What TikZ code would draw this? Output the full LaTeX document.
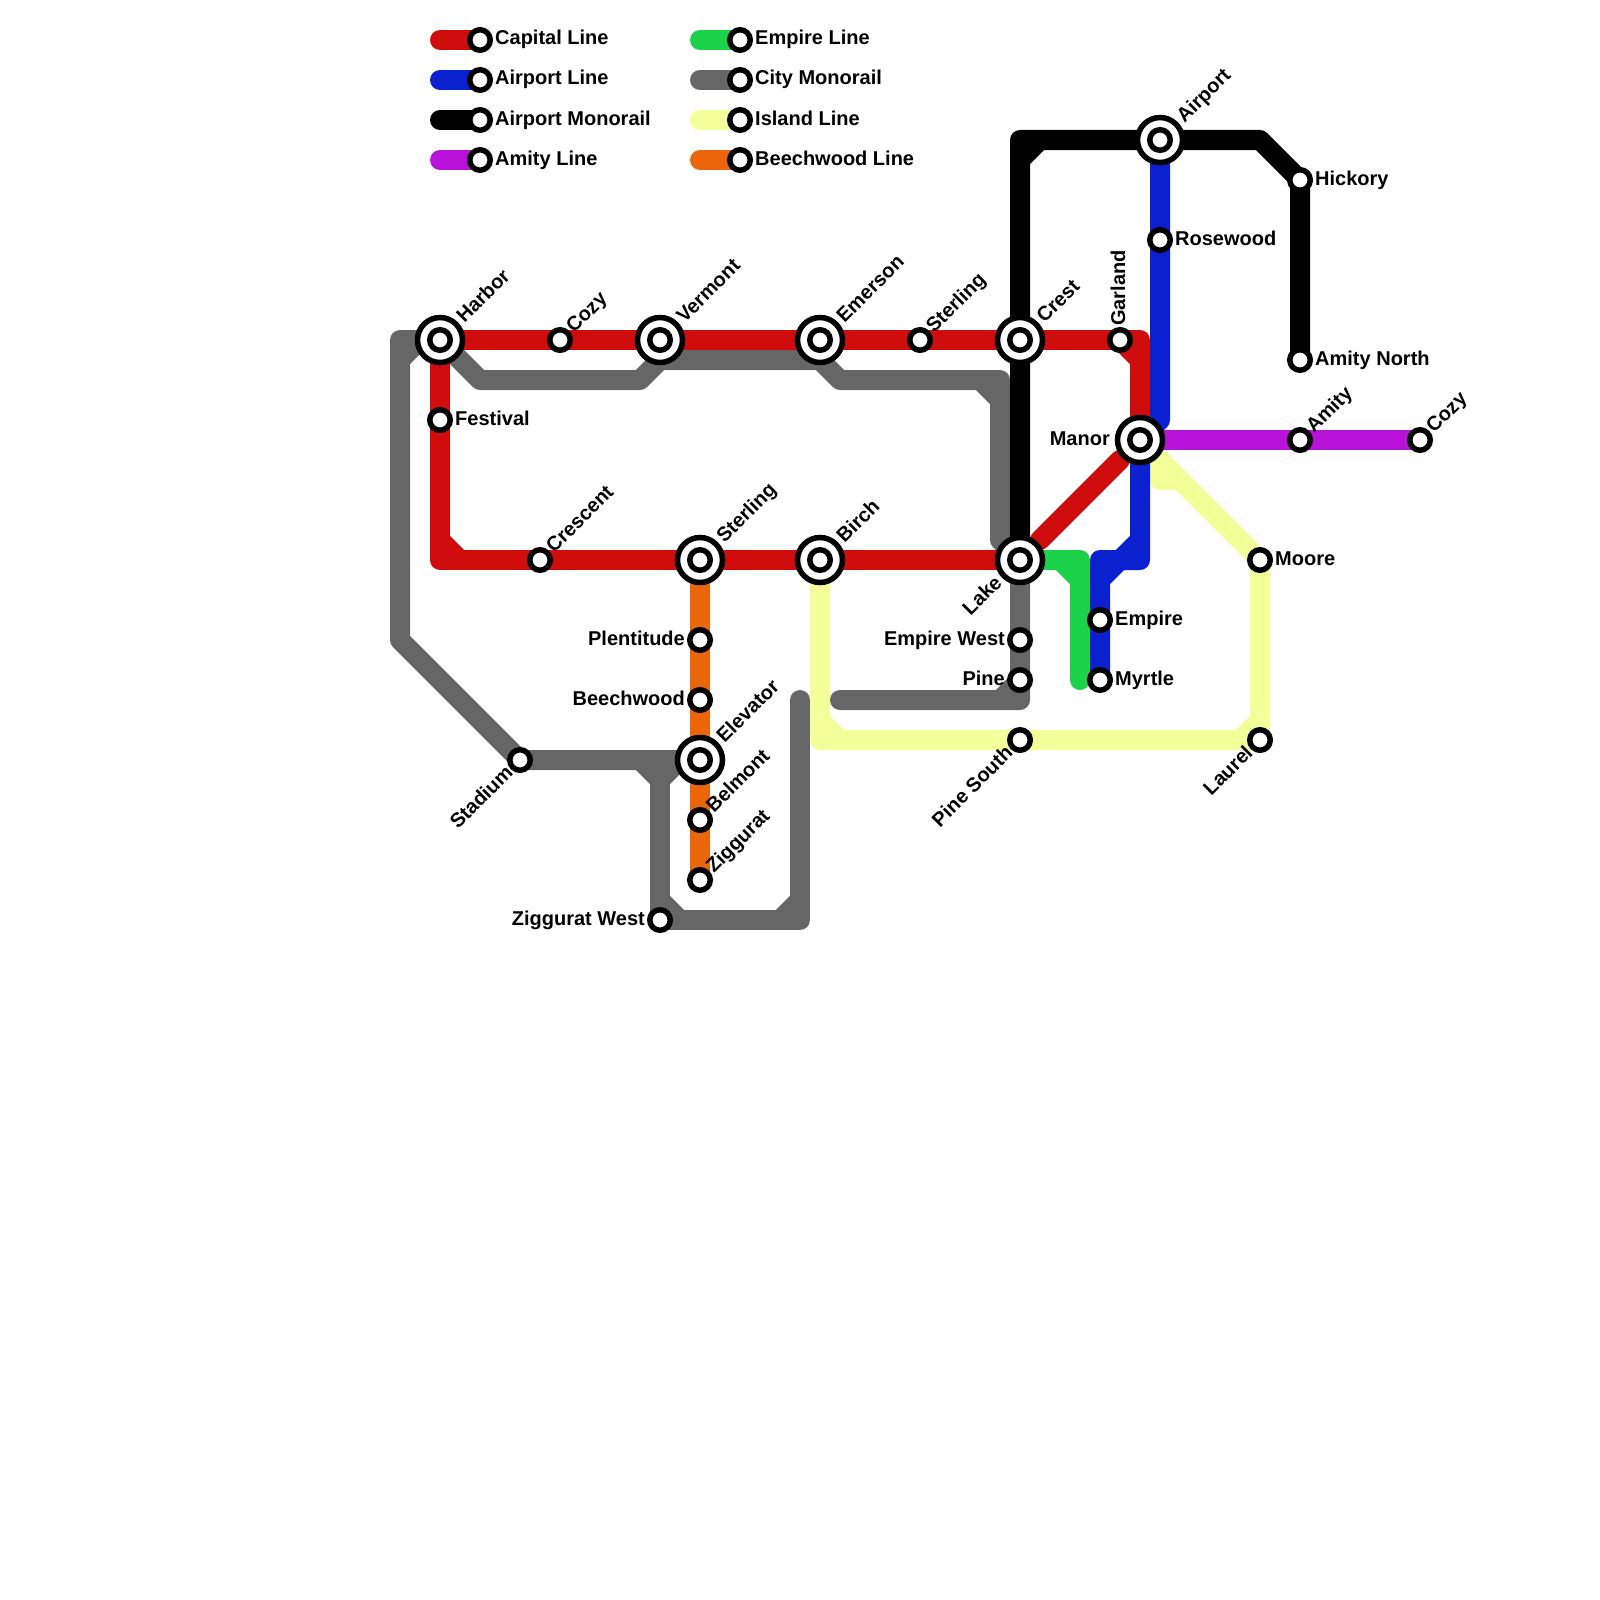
\documentclass[tikz,border=0pt]{standalone}
\usepackage{fontspec}
\setmainfont{Liberation Sans}
\usetikzlibrary{positioning, calc}
\definecolor{CapitalC}{HTML}{CF0D0D}
\definecolor{AirportC}{HTML}{0B21CF}
\definecolor{EmpireC}{HTML}{1CD24A}
\definecolor{CityC}{HTML}{666666}
\definecolor{IslandC}{HTML}{F3FF99}
\definecolor{BeechC}{HTML}{EB650B}
\definecolor{AmityC}{HTML}{B812D8}
\pgfdeclarelayer{rail}
\pgfsetlayers{rail,main}
\tikzset{
  track/.style={line width=20pt, line cap=round, line join=round},
  stop/.style={circle, draw=black, fill=white, line width=5.5pt, minimum size=20.5pt, inner sep=0pt},
  hub/.style={circle, draw=black, fill=white, line width=5.5pt, minimum size=45pt, inner sep=0pt},
  lbl/.style={font=\fontsize{20}{24}\selectfont\bfseries, inner sep=0pt},
  lble/.style={lbl, anchor=base west, xshift=15pt, yshift=-5pt},
  lblw/.style={lbl, anchor=base east, xshift=-15pt, yshift=-5pt},
  hubw/.style={lbl, anchor=base east, xshift=-30pt, yshift=-5pt},
  lblne/.style={lbl, anchor=base west, xshift=14pt, yshift=6pt, rotate=45},
  hubne/.style={lbl, anchor=base west, xshift=24.5pt, yshift=16pt, rotate=45},
  lblsw/.style={lbl, anchor=base east, xshift=-6pt, yshift=-14pt, rotate=45},
  hubsw/.style={lbl, anchor=base east, xshift=-17pt, yshift=-24pt, rotate=45},
  lbln/.style={lbl, anchor=base west, xshift=5pt, yshift=14pt, rotate=90}
}
\begin{document}
\begin{tikzpicture}[x=20pt, y=-20pt]
  \useasboundingbox (0,0) rectangle (80,80);
  % legend
  \node[stop] (k1) at (24,2) {};
  \node[stop] (k2) at (24,4) {};
  \node[stop] (k3) at (24,6) {};
  \node[stop] (k4) at (24,8) {};
  \node[stop] (k5) at (37,2) {};
  \node[stop] (k6) at (37,4) {};
  \node[stop] (k7) at (37,6) {};
  \node[stop] (k8) at (37,8) {};
  \coordinate (s1) at (22,2);
  \coordinate (s2) at (22,4);
  \coordinate (s3) at (22,6);
  \coordinate (s4) at (22,8);
  \coordinate (s5) at (35,2);
  \coordinate (s6) at (35,4);
  \coordinate (s7) at (35,6);
  \coordinate (s8) at (35,8);
  \node[lble] (k1t) at (k1) {Capital Line};
  \node[lble] (k2t) at (k2) {Airport Line};
  \node[lble] (k3t) at (k3) {Airport Monorail};
  \node[lble] (k4t) at (k4) {Amity Line};
  \node[lble] (k5t) at (k5) {Empire Line};
  \node[lble] (k6t) at (k6) {City Monorail};
  \node[lble] (k7t) at (k7) {Island Line};
  \node[lble] (k8t) at (k8) {Beechwood Line};
  % stations
  \node[hub] (harbor) at (22,17) {};
  \node[hub] (vermont) at (33,17) {};
  \node[hub] (emerson) at (41,17) {};
  \node[hub] (crest) at (51,17) {};
  \node[hub] (sterlingB) at (35,28) {};
  \node[hub] (birch) at (41,28) {};
  \node[hub] (lake) at (51,28) {};
  \node[hub] (manor) at (57,22) {};
  \node[hub] (airport) at (58,7) {};
  \node[hub] (elevator) at (35,38) {};
  \foreach \h in {harbor,vermont,emerson,crest,sterlingB,birch,lake,manor,airport,elevator}
    \node[stop] (\h-in) at (\h) {};
  \node[stop] (cozyA) at (28,17) {};
  \node[stop] (sterlingA) at (46,17) {};
  \node[stop] (garland) at (56,17) {};
  \node[stop] (festival) at (22,21) {};
  \node[stop] (crescent) at (27,28) {};
  \node[stop] (plentitude) at (35,32) {};
  \node[stop] (beechwood) at (35,35) {};
  \node[stop] (belmont) at (35,41) {};
  \node[stop] (ziggurat) at (35,44) {};
  \node[stop] (stadium) at (26,38) {};
  \node[stop] (zigwest) at (33,46) {};
  \node[stop] (empwest) at (51,32) {};
  \node[stop] (pine) at (51,34) {};
  \node[stop] (pinesouth) at (51,37) {};
  \node[stop] (empire) at (55,31) {};
  \node[stop] (myrtle) at (55,34) {};
  \node[stop] (moore) at (63,28) {};
  \node[stop] (laurel) at (63,37) {};
  \node[stop] (rosewood) at (58,12) {};
  \node[stop] (hickory) at (65,9) {};
  \node[stop] (amitynorth) at (65,18) {};
  \node[stop] (amity) at (65,22) {};
  \node[stop] (cozyB) at (71,22) {};
  % station names
  \node[hubne] (harbor-t) at (harbor) {Harbor};
  \node[hubne] (vermont-t) at (vermont) {Vermont};
  \node[hubne] (emerson-t) at (emerson) {Emerson};
  \node[hubne] (crest-t) at (crest) {Crest};
  \node[hubne] (sterlingB-t) at (sterlingB) {Sterling};
  \node[hubne] (birch-t) at (birch) {Birch};
  \node[hubne] (airport-t) at (airport) {Airport};
  \node[hubne] (elevator-t) at (elevator) {Elevator};
  \node[hubsw] (lake-t) at (lake) {Lake};
  \node[hubw] (manor-t) at (manor) {Manor};
  \node[lblne] (cozyA-t) at (cozyA) {Cozy};
  \node[lblne] (sterlingA-t) at (sterlingA) {Sterling};
  \node[lblne] (crescent-t) at (crescent) {Crescent};
  \node[lblne] (belmont-t) at (belmont) {Belmont};
  \node[lblne] (ziggurat-t) at (ziggurat) {Ziggurat};
  \node[lblne] (amity-t) at (amity) {Amity};
  \node[lblne] (cozyB-t) at (cozyB) {Cozy};
  \node[lbln] (garland-t) at (garland) {Garland};
  \node[lble] (festival-t) at (festival) {Festival};
  \node[lble] (empire-t) at (empire) {Empire};
  \node[lble] (myrtle-t) at (myrtle) {Myrtle};
  \node[lble] (moore-t) at (moore) {Moore};
  \node[lble] (rosewood-t) at (rosewood) {Rosewood};
  \node[lble] (hickory-t) at (hickory) {Hickory};
  \node[lble] (amitynorth-t) at (amitynorth) {Amity North};
  \node[lblw] (plentitude-t) at (plentitude) {Plentitude};
  \node[lblw] (beechwood-t) at (beechwood) {Beechwood};
  \node[lblw] (zigwest-t) at (zigwest) {Ziggurat West};
  \node[lblw] (empwest-t) at (empwest) {Empire West};
  \node[lblw] (pine-t) at (pine) {Pine};
  \node[lblsw] (stadium-t) at (stadium) {Stadium};
  \node[lblsw] (pinesouth-t) at (pinesouth) {Pine South};
  \node[lblsw] (laurel-t) at (laurel) {Laurel};
  % bends and free ends
  \coordinate (rA) at (22,28);
  \coordinate (rB) at (57,17);
  \coordinate (rC) at (56,23);
  \coordinate (rD) at (52,27);
  \coordinate (bA) at (58,21);
  \coordinate (bB) at (57,28);
  \coordinate (bC) at (55,28);
  \coordinate (kA) at (51,7);
  \coordinate (kB) at (63,7);
  \coordinate (gA) at (54,28);
  \coordinate (gB) at (54,34);
  \coordinate (yA) at (41,37);
  \coordinate (yB) at (58,24);
  \coordinate (yC) at (58,23);
  \coordinate (yD) at (59,24);
  \coordinate (cA) at (20,17);
  \coordinate (cB) at (20,32);
  \coordinate (cC) at (24,19);
  \coordinate (cD) at (32,19);
  \coordinate (cE) at (33,18);
  \coordinate (cF) at (41,18);
  \coordinate (cG) at (42,19);
  \coordinate (cH) at (50,19);
  \coordinate (cI) at (50,27);
  \coordinate (cJ) at (51,35);
  \coordinate (cK) at (42,35);
  \coordinate (cL) at (33,38);
  \coordinate (cM) at (40,46);
  \coordinate (cN) at (40,35);
  \begin{pgfonlayer}{rail}
    % key swatches
    \draw[track, CapitalC] (s1) -- (k1.center);
    \draw[track, AirportC] (s2) -- (k2.center);
    \draw[track, black] (s3) -- (k3.center);
    \draw[track, AmityC] (s4) -- (k4.center);
    \draw[track, EmpireC] (s5) -- (k5.center);
    \draw[track, CityC] (s6) -- (k6.center);
    \draw[track, IslandC] (s7) -- (k7.center);
    \draw[track, BeechC] (s8) -- (k8.center);
    % island line
    \draw[track, IslandC] (birch.center) -- (yA) -- (laurel.center) -- (moore.center) -- (manor.center);
    \draw[track, IslandC] (yC) -- (yB) -- (yD);
    \draw[track, IslandC] ([shift={(0,-1)}]yA) -- ([shift={(1,0)}]yA);
    \draw[track, IslandC] ([shift={(-1,0)}]laurel.center) -- ([shift={(0,-1)}]laurel.center);
    % city monorail
    \draw[track, CityC] (harbor.center) -- (cA) -- (cB) -- (stadium.center) -- (elevator.center);
    \draw[track, CityC] ([shift={(0,1)}]cA) -- ([shift={(1,0)}]cA);
    \draw[track, CityC] (harbor.center) -- (cC) -- (cD) -- (cE) -- (cF) -- (cG) -- (cH) -- (cI) -- (lake.center) -- (cJ) -- (cK);
    \draw[track, CityC] ([shift={(-1,0)}]cH) -- ([shift={(0,1)}]cH);
    \draw[track, CityC] ([shift={(0,-1)}]cJ) -- ([shift={(-1,0)}]cJ);
    \draw[track, CityC] (cL) -- (zigwest.center) -- (cM) -- (cN);
    \draw[track, CityC] ([shift={(-1,0)}]cL) -- ([shift={(0,1)}]cL) -- ([shift={(1,0)}]cL);
    \draw[track, CityC] ([shift={(0,-1)}]zigwest.center) -- ([shift={(1,0)}]zigwest.center);
    \draw[track, CityC] ([shift={(-1,0)}]cM) -- ([shift={(0,-1)}]cM);
    % beechwood line
    \draw[track, BeechC] (sterlingB.center) -- (ziggurat.center);
    % empire line
    \draw[track, EmpireC] (lake.center) -- (gA) -- (gB);
    \draw[track, EmpireC] ([shift={(-1,0)}]gA) -- ([shift={(0,1)}]gA);
    % airport line
    \draw[track, AirportC] (airport.center) -- (bA) -- (manor.center) -- (bB) -- (bC) -- (myrtle.center);
    \draw[track, AirportC] ([shift={(0,-1)}]bB) -- ([shift={(-1,0)}]bB);
    \draw[track, AirportC] ([shift={(1,0)}]bC) -- ([shift={(0,1)}]bC);
    % airport monorail
    \draw[track, black] (lake.center) -- (kA) -- (kB) -- (hickory.center) -- (amitynorth.center);
    \draw[track, black] ([shift={(0,1)}]kA) -- ([shift={(1,0)}]kA);
    % capital line
    \draw[track, CapitalC] (harbor.center) -- (rA) -- (lake.center);
    \draw[track, CapitalC] ([shift={(0,-1)}]rA) -- ([shift={(1,0)}]rA);
    \draw[track, CapitalC] (harbor.center) -- (rB) -- (manor.center);
    \draw[track, CapitalC] ([shift={(-1,0)}]rB) -- ([shift={(0,1)}]rB);
    \draw[track, CapitalC] (rC) -- (rD);
    % amity line
    \draw[track, AmityC] (manor.center) -- (cozyB.center);
  \end{pgfonlayer}
\end{tikzpicture}
\end{document}
